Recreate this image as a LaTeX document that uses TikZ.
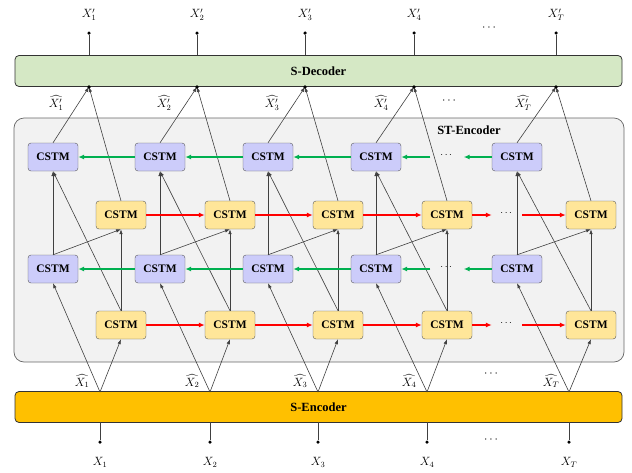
\documentclass[tikz,border=0pt]{standalone}
\usepackage{amsmath,amssymb}
\usepackage{fontspec}
\setmainfont{Liberation Serif}
\usepackage{xcolor}
\usepackage{tikz}
\usetikzlibrary{calc,positioning,arrows.meta}

\definecolor{cstmblue}{HTML}{CCCCFA}
\definecolor{cstmyellow}{HTML}{FFE699}
\definecolor{decgreen}{HTML}{D5E8C5}
\definecolor{encorange}{HTML}{FFC000}
\definecolor{stgrey}{HTML}{F2F2F2}
\definecolor{fwdred}{HTML}{FF0000}
\definecolor{bwdgreen}{HTML}{00B050}

\tikzset{
  cstm/.style={draw=gray!70!black,rounded corners=3pt,minimum width=50pt,
    minimum height=28pt,inner sep=1pt,font=\bfseries\fontsize{11.5}{13}\selectfont},
  bar/.style={draw=black!80,rounded corners=4pt,minimum width=607pt,
    minimum height=31pt,line width=0.8pt,font=\bfseries\fontsize{12.5}{14}\selectfont},
  link/.style={draw=black!75,line width=0.6pt,-{Latex[length=5pt,width=3.5pt]}},
  fwd/.style={draw=fwdred,line width=1.6pt,-{Latex[length=6pt,width=5pt]}},
  bwd/.style={draw=bwdgreen,line width=1.6pt,-{Latex[length=6pt,width=5pt]}},
  gap/.style={inner sep=0pt,minimum height=6pt},
  pindot/.style={circle,fill=black,inner sep=0pt,minimum size=3.5pt},
  lab/.style={inner sep=0.5pt,font=\fontsize{12}{13}\selectfont}
}

\begin{document}
\begin{tikzpicture}[x=1pt,y=-1pt]
\useasboundingbox (0,0) rectangle (632,472);
% ST-Encoder frame
\node[draw=gray!80!black,fill=stgrey,rounded corners=10pt,line width=0.7pt,
  minimum width=610pt,minimum height=244pt] (stenc) at (319,240) {};
\node[font=\bfseries\fontsize{12.5}{14}\selectfont] (sttitle) at (469,130) {ST-Encoder};
% spatial decoder and encoder
\node[bar,fill=decgreen] (sdec) at (318.5,71) {S-Decoder};
\node[bar,fill=encorange] (senc) at (318.5,407) {S-Encoder};

% Columns: (step, blue x, yellow x, decoder x, encoder x)
\foreach \k/\xb/\xf/\xd/\xe in {1/53/121/89/100,2/160/230/197/210,%
  3/268/338/305/318,4/376/447/414/427,T/517/591/556/569}{%
  \node[cstm,fill=cstmblue] (bt-\k) at (\xb,157) {CSTM};
  \node[cstm,fill=cstmyellow] (ft-\k) at (\xf,215) {CSTM};
  \node[cstm,fill=cstmblue] (bb-\k) at (\xb,269) {CSTM};
  \node[cstm,fill=cstmyellow] (fb-\k) at (\xf,325) {CSTM};
  \coordinate (din-\k) at (\xd,87);
  \coordinate (dout-\k) at (\xd,55);
  \coordinate (eout-\k) at (\xe,392);
  \coordinate (ein-\k) at (\xe,422);
  % outputs above the decoder
  \node[pindot] (yo-\k) at (\xd,33) {};
  \node[lab] (ylab-\k) at (\xd,15) {$X'_{\k}$};
  \draw[black!75,line width=0.6pt] (dout-\k) -- (yo-\k);
  % inputs below the encoder
  \node[pindot] (xi-\k) at (\xe,442) {};
  \node[lab] (xlab-\k) at (\xe,462) {$X_{\k}$};
  \draw[black!75,line width=0.6pt] (ein-\k) -- (xi-\k);
  % encoded / reconstructed labels
  \node[lab] (eh-\k) at (\xe-18,381) {$\widehat{X_{\k}}$};
  \node[lab] (dh-\k) at (\xd-33,103) {$\widehat{X'_{\k}}$};
  % links inside the column
  \draw[link] (eout-\k) -- (bb-\k.south);
  \draw[link] (eout-\k) -- (fb-\k.south);
  \draw[link] (fb-\k.north) -- (ft-\k.south);
  \draw[link] (fb-\k.north) -- (bt-\k.south);
  \draw[link] (bb-\k.north) -- (bt-\k.south);
  \draw[link] (bb-\k.north) -- (ft-\k.south);
  \draw[link] (bt-\k.north) -- (din-\k);
  \draw[link] (ft-\k.north) -- (din-\k);
  \fill (din-\k) circle (1.8pt);
}
% recurrent links between neighbouring steps
\foreach \a/\b in {1/2,2/3,3/4}{%
  \draw[bwd] (bt-\b.west) -- (bt-\a.east);
  \draw[bwd] (bb-\b.west) -- (bb-\a.east);
  \draw[fwd] (ft-\a.east) -- (ft-\b.west);
  \draw[fwd] (fb-\a.east) -- (fb-\b.west);
}
% gaps between step 4 and step T
\node[gap,minimum width=33pt] (gbt) at (447,155) {$\cdots$};
\node[gap,minimum width=33pt] (gbb) at (447,267) {$\cdots$};
\node[gap,minimum width=30pt] (gft) at (507,213) {$\cdots$};
\node[gap,minimum width=30pt] (gfb) at (507,323) {$\cdots$};
\draw[bwd] (bt-T.west) -- (bt-T.west -| gbt.east);
\draw[bwd] (bt-4.east -| gbt.west) -- (bt-4.east);
\draw[bwd] (bb-T.west) -- (bb-T.west -| gbb.east);
\draw[bwd] (bb-4.east -| gbb.west) -- (bb-4.east);
\draw[fwd] (ft-4.east) -- (ft-4.east -| gft.west);
\draw[fwd] (ft-T.west -| gft.east) -- (ft-T.west);
\draw[fwd] (fb-4.east) -- (fb-4.east -| gfb.west);
\draw[fwd] (fb-T.west -| gfb.east) -- (fb-T.west);
% dots in the label rows
\node[lab] (dots-y) at (490,28) {$\cdots$};
\node[lab] (dots-dh) at (450,101) {$\cdots$};
\node[lab] (dots-eh) at (492,374) {$\cdots$};
\node[lab] (dots-x) at (492,440) {$\cdots$};
\end{tikzpicture}
\end{document}
